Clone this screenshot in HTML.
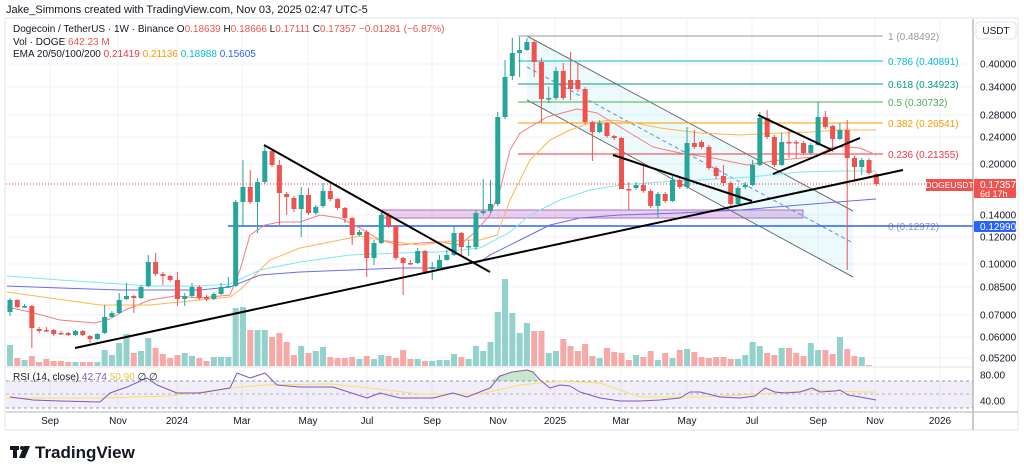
<!DOCTYPE html>
<html><head><meta charset="utf-8"><style>
html,body{margin:0;padding:0;background:#fff;width:1024px;height:473px;overflow:hidden}
svg{display:block;font-family:"Liberation Sans","DejaVu Sans",sans-serif}
</style></head><body>
<svg id="s" width="1024" height="473" viewBox="0 0 1024 473" xmlns="http://www.w3.org/2000/svg"></svg>
<script>
const S=document.getElementById('s');let h='';
function L(x1,y1,x2,y2,c,w,d){h+=`<line x1="${x1}" y1="${y1}" x2="${x2}" y2="${y2}" stroke="${c}" stroke-width="${w||1}" ${d?`stroke-dasharray="${d}"`:''}/>`;}
function R(x,y,w,hh,f,o){h+=`<rect x="${x}" y="${y}" width="${w}" height="${hh}" fill="${f}" ${o||''}/>`;}
function T(x,y,t,c,s,a,wt){h+=`<text x="${x}" y="${y}" fill="${c}" font-size="${s||11}" ${a?`text-anchor="${a}"`:''} ${wt?`font-weight="${wt}"`:''}>${t}</text>`;}
function P(pts,c,w,d,f){h+=`<polyline points="${pts.map(p=>p.join(',')).join(' ')}" fill="${f||'none'}" stroke="${c}" stroke-width="${w||1}" ${d?`stroke-dasharray="${d}"`:''} stroke-linejoin="round"/>`;}
R(5,18,1013,412,'#fff','stroke="#e0e3eb" stroke-width="1"');
const gy=[64,87,115,137,164,215,237,264,287,315,337,358];
gy.forEach(y=>L(6,y,973,y,'#f0f3fa',1));
const tx=[[50,'Sep'],[118,'Nov'],[177,'2024'],[242,'Mar'],[308,'May'],[367,'Jul'],[432,'Sep'],[498,'Nov'],[555,'2025'],[621,'Mar'],[687,'May'],[752,'Jul'],[818,'Sep'],[875,'Nov'],[940,'2026']];
tx.forEach(t=>L(t[0],19,t[0],412,'#f0f3fa',1));
const vol=[345,358,360,356,362,359,361,361,362,362,362,362,362,350,355,343,334,353,351,338,348,354,358,355,353,356,358,361,357,357,357,308,307,330,330,330,337,333,342,355,346,353,351,347,357,358,358,357,359,356,359,355,356,358,350,359,359,361,361,360,360,354,357,359,346,351,342,312,279,313,333,323,331,331,353,351,339,346,351,344,356,358,348,352,353,360,355,357,351,360,353,358,350,349,352,357,358,357,357,359,359,355,342,346,353,355,348,348,353,356,343,350,350,354,337,349,356,357,365];
const C=[[312,300,298,316],[300,307,299,308],[306,306,304,308],[306,328,305,348],[329,331,327,333],[330,330,327,332],[330,334,329,336],[333,333,331,335],[333,335,332,336],[335,331,330,336],[331,335,330,336],[336,339,335,343],[339,334,333,340],[333,317,305,334],[317,313,311,318],[313,300,293,314],[299,296,283,300],[296,298,295,313],[298,287,285,299],[286,262,255,287],[262,274,253,276],[274,276,272,285],[276,280,275,282],[280,299,272,306],[299,296,293,306],[296,287,283,298],[287,298,285,300],[297,299,295,301],[299,294,292,300],[294,287,283,295],[287,286,277,288],[286,202,200,287],[202,187,160,227],[187,202,170,204],[202,182,178,233],[182,151,145,184],[151,165,150,167],[165,193,160,225],[194,197,192,215],[198,209,196,212],[209,195,187,237],[195,213,188,215],[213,207,205,215],[206,191,183,208],[191,199,184,201],[199,208,198,210],[208,218,207,223],[218,235,217,245],[235,232,230,236],[232,258,230,277],[258,243,240,265],[243,215,212,244],[215,226,213,228],[226,258,225,260],[258,263,257,295],[263,263,260,265],[263,251,248,264],[251,272,250,274],[269,267,262,280],[269,260,255,270],[260,255,250,261],[255,233,225,256],[233,247,232,257],[247,246,240,256],[247,213,210,250],[213,211,179,215],[211,204,180,213],[204,117,112,206],[117,77,60,119],[76,53,38,80],[53,50,37,77],[50,42,38,51],[42,62,40,77],[62,99,58,123],[98,98,87,103],[98,71,67,100],[71,98,63,100],[80,89,52,100],[80,89,63,92],[89,122,87,124],[122,132,121,161],[132,123,120,133],[123,136,122,138],[136,138,135,140],[138,189,137,177],[189,189,182,210],[188,185,182,190],[185,191,163,193],[191,206,189,208],[206,194,192,218],[194,201,192,203],[201,180,176,202],[180,187,178,189],[187,143,127,189],[143,147,130,149],[142,147,140,149],[147,168,145,170],[168,176,166,179],[176,183,165,186],[183,204,181,206],[204,188,186,206],[187,185,182,189],[185,165,160,186],[165,118,112,166],[118,137,110,139],[137,165,135,167],[165,142,133,166],[142,142,130,158],[142,143,140,158],[143,153,141,155],[153,145,143,155],[145,117,102,146],[117,127,111,129],[126,139,125,152],[139,130,123,140],[130,158,120,270],[158,167,156,182],[167,160,158,175],[160,173,158,175],[174,184,173,186]];
const X=i=>10+i*7.28;
vol.forEach((v,i)=>{const c=C[i];const up=c[1]<c[0]||(c[1]==c[0]&&i%2==0);R(X(i)-3,v,6,366-v,up?'#93d2cc':'#f7a9a7');});
R(382,210,421,8,'rgba(156,39,176,0.22)','stroke="#ba68c8" stroke-width="1"');
h+=`<polygon points="527,36 853,211 853,277 527,100" fill="rgba(0,188,212,0.07)"/>`;
L(527,36,853,211,'#707070',1);L(527,100,853,277,'#707070',1);L(527,67,853,243,'#5b8fe0',1,'4,3');
const fib=[[36,'#9598a1','1 (0.48492)'],[61,'#00bcd4','0.786 (0.40891)'],[84,'#089981','0.618 (0.34923)'],[102,'#4caf50','0.5 (0.30732)'],[123,'#ff9800','0.382 (0.26541)'],[154,'#f23645','0.236 (0.21355)'],[226,'#9598a1','0 (0.12972)']];
fib.forEach(f=>{L(518,f[0],883,f[0],f[1],1);T(888,f[0]+4,f[2],f[1],10);});
L(228,226,973,226,'#2962ff',1.5);
L(6,184,973,184,'#f23645',1,'1,2');
P([[7,307],[30,312],[60,320],[95,323],[110,319],[125,310],[150,300],[175,296],[200,298],[230,295],[240,270],[250,235],[265,225],[280,222],[300,222],[320,215],[340,218],[360,228],[380,240],[400,245],[420,243],[440,242],[460,245],[475,232],[490,215],[500,190],[510,150],[520,133],[547,117],[577,109],[597,113],[630,133],[653,147],[680,153],[713,158],[747,165],[760,163],[780,160],[813,157],[833,147],[847,147],[860,148],[876,155]],'#f77c80',1);
P([[7,292],[100,305],[150,305],[200,300],[230,297],[240,290],[270,260],[300,248],[340,240],[360,236],[380,240],[420,245],[460,240],[480,240],[497,235],[510,200],[530,160],[550,140],[570,130],[590,123],[610,120],[630,122],[660,128],[700,133],[740,135],[780,133],[810,132],[840,130],[876,130]],'#ffb74d',1);
P([[7,276],[60,280],[120,284],[150,286],[200,286],[230,284],[260,270],[300,262],[350,255],[400,253],[440,252],[480,248],[510,232],[530,215],[560,200],[590,190],[620,185],[660,182],[700,180],[750,177],[800,172],[840,171],[876,171]],'#7de8f0',1);
P([[7,286],[60,288],[120,290],[200,290],[230,287],[260,275],[300,272],[350,270],[400,268],[440,268],[480,262],[490,255],[520,240],[550,225],[580,218],[620,215],[680,213],[740,210],[800,205],[850,201],[876,199]],'#6a6cf0',1);
C.forEach((c,i)=>{const x=X(i);const up=c[1]<c[0]||(c[1]==c[0]&&i%2==0);const col=up?'#26a69a':'#ef5350';
const top=Math.min(c[0],c[1]),bot=Math.max(c[0],c[1]);const hi=Math.min(c[2],top),lo=Math.max(c[3],bot);
L(x,hi,x,lo,col,1);R(x-2.5,top,5,Math.max(1.5,bot-top),col);});
L(75,348,903,170,'#000',2);L(264,145,490,272,'#000',2);L(613,155,752,201,'#000',2);L(758,115,832,150,'#000',2);L(773,174,860,138,'#000',2);
L(6,367,973,367,'#e0e3eb',1);
R(6,381,967,27,'rgba(126,87,194,0.10)');
L(6,381,973,381,'#9598a1',1,'3,3');L(6,394,973,394,'#b2b5be',1,'3,3');L(6,408,973,408,'#9598a1',1,'3,3');
h+=`<polygon points="490,381 500,375 512,372 527,370 533,372 538,381" fill="rgba(76,175,80,0.3)"/>`;
P([[7,398],[100,398],[170,396],[230,388],[265,385],[330,384],[370,388],[420,394],[480,394],[520,385],[560,381],[600,383],[640,397],[700,397],[760,394],[820,390],[860,392],[876,392]],'#f7e25c',1);
P([[10,397],[33,400],[60,401],[100,402],[110,393],[127,387],[147,378],[157,385],[177,393],[200,393],[230,388],[237,373],[250,378],[265,373],[277,385],[300,387],[333,387],[367,398],[380,393],[400,398],[433,398],[453,393],[467,397],[490,388],[500,376],[512,372],[527,370],[533,372],[540,380],[550,388],[560,385],[570,386],[580,392],[600,398],[620,401],[640,401],[660,400],[680,398],[690,392],[700,392],[720,397],[740,398],[755,396],[765,388],[775,392],[785,393],[800,392],[812,388],[820,392],[835,391],[840,390],[848,395],[860,397],[876,400]],'#7e57c2',1);
T(13,380,'RSI (14, close) <tspan fill="#7e57c2">42.74</tspan> <tspan fill="#e8c93a">50.90</tspan> ∅ ∅','#131722',10);
L(973,19,973,430,'#9598a1',1);L(6,412,1018,412,'#b2b5be',1);
R(976,22,40,17,'#fff','stroke="#e0e3eb" rx="3"');T(996,34,'USDT','#131722',10,'middle');
const pl=[[64,'0.40000'],[87,'0.34000'],[115,'0.28000'],[137,'0.24000'],[164,'0.20000'],[215,'0.14000'],[237,'0.12000'],[264,'0.10000'],[287,'0.08500'],[315,'0.07000'],[337,'0.06000'],[358,'0.05200'],[375,'80.00'],[401,'40.00']];
pl.forEach(p=>T(980,p[0]+3.5,p[1],'#131722',10));
R(926,179,47,12,'#ef5350');T(949.5,188,'DOGEUSDT','#fff',8.5,'middle');
R(974,179,42,19,'#ef5350','rx="1"');T(980,188,'0.17357','#fff',10);T(980,197,'6d 17h','#fff',9);
R(974,221,42,11,'#2962ff','rx="1"');T(980,230,'0.12990','#fff',10);
tx.forEach(t=>T(t[0],424,t[1],'#131722',10,'middle'));
T(6,13,'Jake_Simmons created with TradingView.com, Nov 03, 2025 02:47 UTC-5','#131722',11);
T(13,32,'Dogecoin / TetherUS · 1W · Binance  <tspan fill="#131722">O</tspan><tspan fill="#ef5350">0.18639</tspan> <tspan fill="#131722">H</tspan><tspan fill="#ef5350">0.18666</tspan> <tspan fill="#131722">L</tspan><tspan fill="#ef5350">0.17111</tspan> <tspan fill="#131722">C</tspan><tspan fill="#ef5350">0.17357 −0.01281 (−6.87%)</tspan>','#131722',10);
T(13,45,'Vol · DOGE <tspan fill="#ef5350">642.23 M</tspan>','#131722',10);
T(13,57,'EMA 20/50/100/200 <tspan fill="#f23645">0.21419</tspan> <tspan fill="#ff9800">0.21136</tspan> <tspan fill="#00bcd4">0.18988</tspan> <tspan fill="#2962ff">0.15605</tspan>','#131722',10);
R(10,446,9,4,'#131722');R(13,446,4,12,'#131722');h+=`<circle cx="22" cy="448" r="2" fill="#131722"/><polygon points="24,446 30,446 25,458 19,458" fill="#131722"/>`;
T(35,458,'TradingView','#131722',17,null,'bold');
S.innerHTML=h;
</script>
</body></html>
